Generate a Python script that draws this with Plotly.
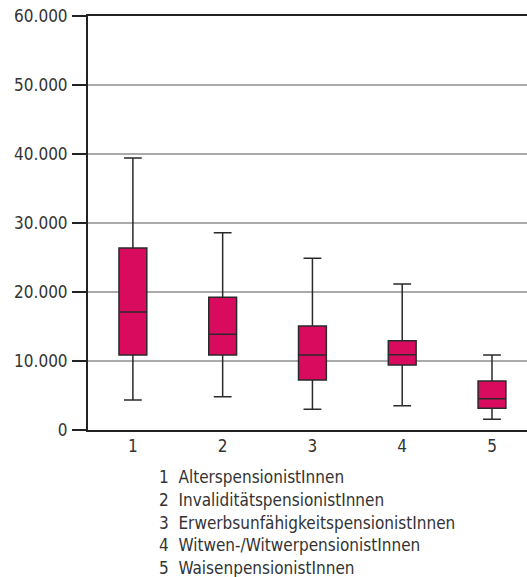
import plotly.graph_objects as go

categories = [1, 2, 3, 4, 5]
lower_whisker = [4350, 4830, 3000, 3530, 1550]
q1_values = [10870, 10870, 7250, 9420, 3140]
median_values = [17100, 13870, 10870, 10920, 4540]
q3_values = [26380, 19230, 15070, 12940, 7100]
upper_whisker = [39420, 28600, 24880, 21160, 10870]
y_tickvals = [0, 10000, 20000, 30000, 40000, 50000, 60000]
y_ticktext = ["0", "10.000", "20.000", "30.000", "40.000", "50.000", "60.000"]
legend_lines = [
    "1  AlterspensionistInnen",
    "2  InvaliditätspensionistInnen",
    "3  ErwerbsunfähigkeitspensionistInnen",
    "4  Witwen-/WitwerpensionistInnen",
    "5  WaisenpensionistInnen",
]

FONT = "DejaVu Sans Condensed, DejaVu Sans"
TXT = "#333333"
FS = 17

fig = go.Figure()
fig.add_trace(go.Box(
    x=categories,
    q1=q1_values, median=median_values, q3=q3_values,
    lowerfence=lower_whisker, upperfence=upper_whisker,
    fillcolor="#d80b5f",
    line=dict(color="#2a2a2a", width=1.5),
    width=0.31,
    whiskerwidth=0.64,
    boxpoints=False,
    showlegend=False,
    hoverinfo="skip",
))

W, H = 527, 577
ml, mt = 88, 16
mb = H - 430
fig.update_layout(
    width=W, height=H,
    margin=dict(l=ml, r=0, t=mt, b=mb, pad=0),
    paper_bgcolor="white", plot_bgcolor="white",
    font=dict(family=FONT, size=FS, color=TXT),
    xaxis=dict(
        range=[0.5, 5.39], tickvals=categories, ticktext=[str(c) for c in categories],
        showgrid=False, zeroline=False, showline=True, mirror=True,
        linecolor="#222222", linewidth=2, ticks="", tickfont=dict(size=FS, color=TXT),
        fixedrange=True, automargin=False,
    ),
    yaxis=dict(
        range=[0, 60000], tickvals=y_tickvals, ticktext=y_ticktext,
        showgrid=True, gridcolor="#aaaaaa", gridwidth=1.5, zeroline=False,
        showline=True, linecolor="#222222", linewidth=2,
        ticks="outside", ticklen=14, tickwidth=2, tickcolor="#222222",
        ticklabelstandoff=1, ticklabeloverflow="allow",
        tickfont=dict(size=FS, color=TXT), fixedrange=True, automargin=False,
    ),
)

plot_h = H - mt - mb
for i, line in enumerate(legend_lines):
    y_px = 477 + i * 22.75
    fig.add_annotation(
        text=line, xref="paper", yref="paper",
        x=(157 - ml) / (W - ml), y=1 - (y_px - mt) / plot_h,
        xanchor="left", yanchor="middle", showarrow=False,
        font=dict(family=FONT, size=FS, color=TXT),
    )

fig.write_html(
    "out.html",
    config={"displayModeBar": False},
    post_script="document.body.style.margin='0';",
)
